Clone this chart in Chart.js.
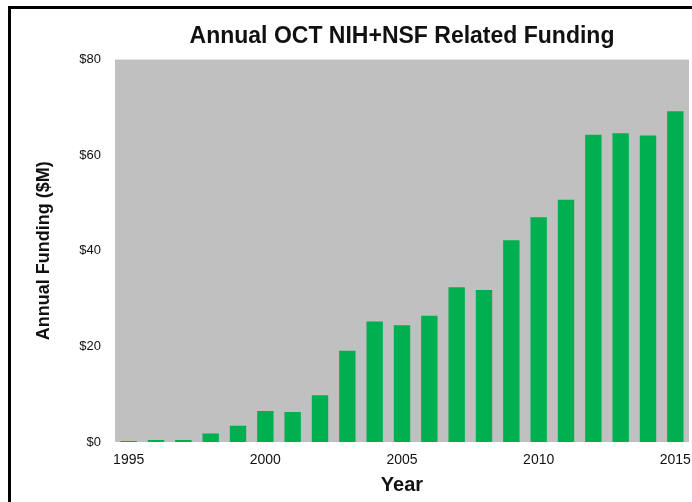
<!DOCTYPE html>
<html>
<head>
<meta charset="utf-8">
<script src="https://cdn.jsdelivr.net/npm/chart.js@4"></script>
<style>
  html, body { margin: 0; padding: 0; background: #fff; }
  #wrap { position: relative; width: 692px; height: 502px; overflow: hidden; }
  #frame {
    position: absolute; left: 8px; top: 6px; width: 700px; height: 520px;
    border: 3px solid #000; pointer-events: none;
  }
</style>
</head>
<body>
<div id="wrap">
  <canvas id="funding-chart" width="692" height="502"></canvas>
  <div id="frame"></div>
</div>
<script>
// Chart data
const years = ['1995', '1996', '1997', '1998', '1999', '2000', '2001', '2002', '2003', '2004', '2005',
               '2006', '2007', '2008', '2009', '2010', '2011', '2012', '2013', '2014', '2015'];
const funding = [0.2, 0.4, 0.4, 1.8, 3.4, 6.5, 6.3, 9.8, 19.1, 25.2, 24.4,
                 26.4, 32.4, 31.8, 42.2, 47.0, 50.7, 64.3, 64.6, 64.1, 69.2];
const yTicks = [0, 20, 40, 60, 80];

// Grey plot background behind the bars
const plotBackground = {
    id: 'plotBackground',
    beforeDraw: chart => {
        const { ctx, chartArea: a } = chart;
        ctx.save();
        ctx.fillStyle = '#c0c0c0';
        ctx.fillRect(a.left, a.top, a.right - a.left, a.bottom - a.top);
        ctx.restore();
    }
};

const ctx = document.getElementById('funding-chart').getContext('2d');
new Chart(ctx, {
    type: 'bar',
    data: {
        labels: years,
        datasets: [{
            data: funding,
            backgroundColor: '#00b050',
            barPercentage: 0.6,
            categoryPercentage: 1.0
        }]
    },
    options: {
        responsive: false,
        animation: false,
        layout: { padding: { left: 29, right: 3, top: 0, bottom: 0 } },
        plugins: {
            legend: { display: false },
            tooltip: { enabled: false },
            title: {
                display: true,
                text: 'Annual OCT NIH+NSF Related Funding',
                fullSize: false,
                color: '#111',
                font: { family: 'Liberation Sans, Arial, sans-serif', size: 23, weight: 'bold' },
                padding: { top: 23, bottom: 9 }
            }
        },
        scales: {
            x: {
                grid: { display: false, drawTicks: false },
                border: { display: false },
                ticks: {
                    autoSkip: false,
                    maxRotation: 0,
                    padding: 10,
                    color: '#111',
                    font: { family: 'Liberation Sans, Arial, sans-serif', size: 14 },
                    callback: function (value) {
                        const y = Number(this.getLabelForValue(value));
                        return y % 5 === 0 ? String(y) : '';
                    }
                },
                title: {
                    display: true,
                    text: 'Year',
                    color: '#111',
                    font: { family: 'Liberation Sans, Arial, sans-serif', size: 20, weight: 'bold' },
                    padding: { top: 4, bottom: 5 }
                },
                afterFit: scale => {
                    scale.height = 60;
                    scale.paddingLeft = 0;
                    scale.paddingRight = 0;
                }
            },
            y: {
                min: 0,
                max: 80,
                grid: { display: false, drawTicks: false },
                border: { display: false },
                afterBuildTicks: scale => { scale.ticks = yTicks.map(v => ({ value: v })); },
                ticks: {
                    padding: 14,
                    color: '#111',
                    font: { family: 'Liberation Sans, Arial, sans-serif', size: 13 },
                    callback: v => '$' + v
                },
                title: {
                    display: true,
                    text: 'Annual Funding ($M)',
                    color: '#111',
                    font: { family: 'Liberation Sans, Arial, sans-serif', size: 18, weight: 'bold' },
                    padding: { top: 4, bottom: 4 }
                },
                afterFit: scale => {
                    scale.width = 86;
                    scale.paddingTop = 0;
                    scale.paddingBottom = 0;
                }
            }
        }
    },
    plugins: [plotBackground]
});
</script>
</body>
</html>
